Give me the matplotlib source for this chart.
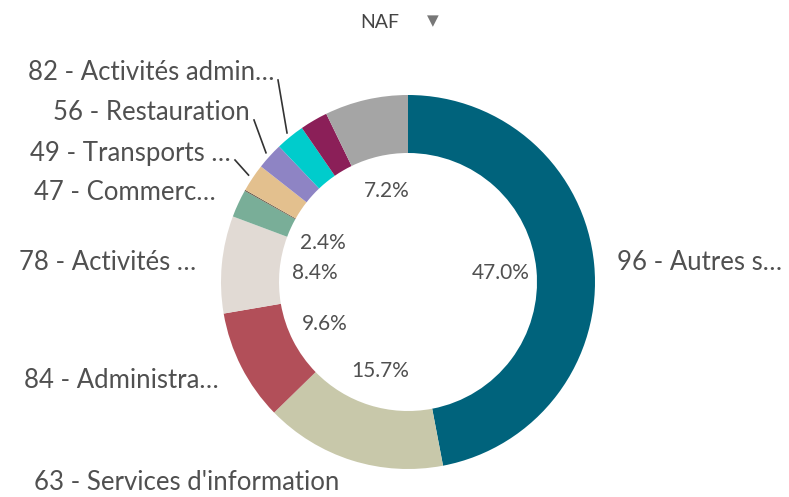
import numpy as np
import matplotlib
matplotlib.use("Agg")
import matplotlib.pyplot as plt

# NAF sectors, clockwise from 12 o'clock
codes = ["96", "63", "84", "78", "47", "", "49", "56", "82", "", ""]
names = ["Autres s…", "Services d'information", "Administra…", "Activités …",
         "Commerc…", "", "Transports …", "Restauration", "Activités admin…", "", ""]
shares = [47.0, 15.7, 9.6, 8.4, 2.4, 0.1, 2.4, 2.3, 2.5, 2.4, 7.2]
show_pct = [True, True, True, True, True, False, False, False, False, False, True]
colors = ["#00637c", "#c8c8aa", "#b24f59", "#e1dad4", "#79ae98", "#6b5a48",
          "#e3c08e", "#8e84c4", "#00cccc", "#8b1f58", "#a5a5a5"]

W, H = 789, 497
CX, CY, R, RING = 408, 282, 187, 58
TXT = "#505050"

# label anchors in picture pixels (x, y, ha) and whether a leader line is drawn
label_pos = [(617, 263, "left"), (34, 483, "left"), (219, 380, "right"),
             (196, 263, "right"), (216, 192, "right"), None,
             (231, 153, "right"), (250, 113, "right"), (274, 73, "right"),
             None, None]
leader = [False, False, False, False, False, False, True, True, True, False, False]

plt.rcParams['font.family'] = ['Lato', 'DejaVu Sans']

fig = plt.figure(figsize=(W / 100, H / 100), dpi=100)
ax = fig.add_axes([0, 0, 1, 1])


def py(y):
    return H - y


wedges, _ = ax.pie(shares, colors=colors, startangle=90, counterclock=False,
                   center=(CX, py(CY)), radius=R, frame=True,
                   wedgeprops=dict(width=RING, linewidth=0))
ax.set_xlim(0, W)
ax.set_ylim(0, H)
ax.set_aspect("equal")
ax.axis("off")

total = sum(shares)
for w, v, show in zip(wedges, shares, show_pct):
    if not show:
        continue
    mid = np.deg2rad((w.theta1 + w.theta2) / 2)
    rr = 0.5 * R
    ax.text(CX + rr * np.cos(mid), py(CY) + rr * np.sin(mid),
            "{:.1f}%".format(100 * v / total), ha="center", va="center",
            fontsize=15, color=TXT)

for w, code, name, pos, lead in zip(wedges, codes, names, label_pos, leader):
    if pos is None:
        continue
    x, y, ha = pos
    ax.text(x, py(y), "{} - {}".format(code, name), ha=ha, va="center",
            fontsize=18.5, color=TXT)
    if lead:
        mid = np.deg2rad((w.theta1 + w.theta2) / 2)
        ex = CX + (R + 5) * np.cos(mid)
        ey = py(CY) + (R + 5) * np.sin(mid)
        ax.plot([x + 4, ex], [py(y + 7), ey], color="#333333", lw=1.2)

ax.text(380, py(22), "NAF", ha="center", va="center", fontsize=14, color="#444444")
ax.text(433, py(21), "▼", ha="center", va="center", fontsize=11, color="#777777",
        family="DejaVu Sans")

fig.savefig("out.png", dpi=100)
